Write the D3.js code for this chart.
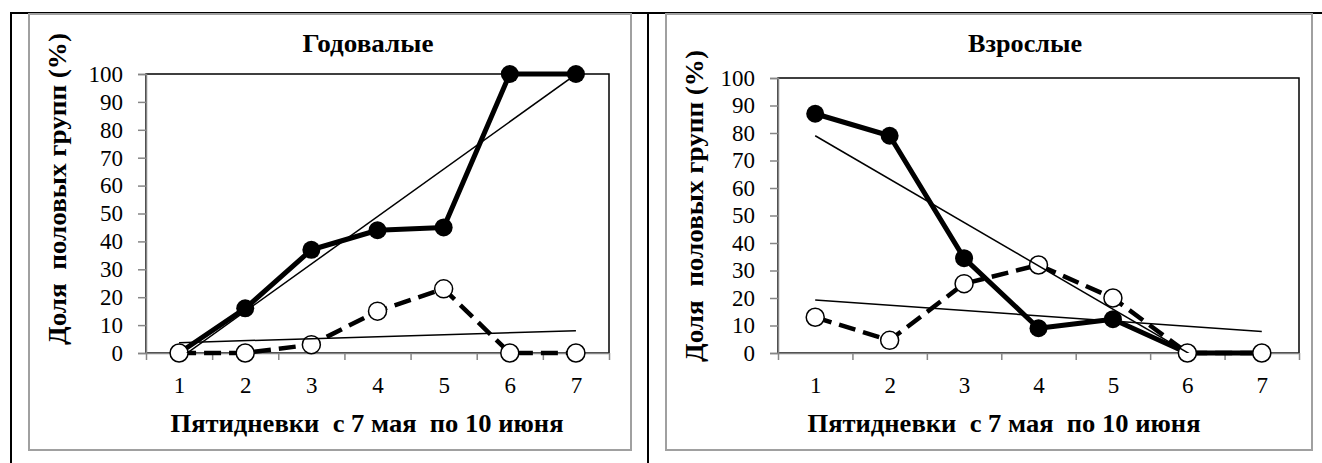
<!DOCTYPE html>
<html>
<head>
<meta charset="utf-8">
<script src="https://cdn.jsdelivr.net/npm/d3@7"></script>
<style>
    body { margin: 0; background: #fff; }
    svg { display: block; }
</style>
</head>
<body>
<div id="chart"></div>
<script>
// data
const periods = [1, 2, 3, 4, 5, 6, 7]
const yTicks = [0, 10, 20, 30, 40, 50, 60, 70, 80, 90, 100]

const yearlingFilled = [0, 16, 37, 44, 45, 100, 100]
const yearlingOpen = [0, 0, 3, 15, 23, 0, 0]
const yearlingFilledTrend = [-2.1, 99.9]   // value at period 1 and period 7
const yearlingOpenTrend = [3.7, 8.0]

const adultFilled = [87, 79, 34.5, 9, 12.3, 0, 0]
const adultOpen = [13, 4.6, 25.2, 32, 20, 0, 0]
const adultFilledTrend = [79, -15.6]
const adultOpenTrend = [19.3, 7.8]

const xTitle = "Пятидневки  с 7 мая  по 10 июня"
const yTitle = "Доля  половых групп (%)"

const width = 1322
const height = 463
const serif = "Liberation Serif"

const svg = d3.select("#chart")
    .append("svg")
    .attr("width", width)
    .attr("height", height)
    .attr("viewBox", [0, 0, width, height])
    .attr("font-family", serif)

// table lines around the two panels
svg.append("g")
    .attr("stroke", "#000")
    .attr("stroke-width", 2)
    .call(g => g.append("line").attr("x1", 10).attr("x2", width).attr("y1", 13).attr("y2", 13))
    .call(g => g.append("line").attr("x1", 11).attr("x2", 11).attr("y1", 12).attr("y2", height))
    .call(g => g.append("line").attr("x1", 648).attr("x2", 648).attr("y1", 12).attr("y2", height))

const panels = [
    {
        id: "p0", title: "Годовалые", titleX: 368, titleLen: 131,
        frame: [29, 14, 631, 450],
        plot: { left: 146, right: 609, top: 74, bottom: 353 },
        yTitleX: 57, yTitleY: 189, xTitleX: 367,
        filled: yearlingFilled, open: yearlingOpen,
        filledTrend: yearlingFilledTrend, openTrend: yearlingOpenTrend
    },
    {
        id: "p1", title: "Взрослые", titleX: 1025, titleLen: 114,
        frame: [666, 14, 1312, 450],
        plot: { left: 778, right: 1299, top: 78, bottom: 353 },
        yTitleX: 694, yTitleY: 206, xTitleX: 1004,
        filled: adultFilled, open: adultOpen,
        filledTrend: adultFilledTrend, openTrend: adultOpenTrend
    }
]

function drawPanel(p) {
    const g = svg.append("g")
    const { left, right, top, bottom } = p.plot

    // gray chart frame
    g.append("rect")
        .attr("x", p.frame[0]).attr("y", p.frame[1])
        .attr("width", p.frame[2] - p.frame[0]).attr("height", p.frame[3] - p.frame[1])
        .attr("fill", "none").attr("stroke", "#a0a0a0").attr("stroke-width", 2)

    const x = d3.scaleLinear([0.5, periods.length + 0.5], [left, right])
    const y = d3.scaleLinear([0, 100], [bottom, top])

    // plot area border (black top/right), axes drawn over it in gray
    g.append("rect")
        .attr("x", left).attr("y", top)
        .attr("width", right - left).attr("height", bottom - top)
        .attr("fill", "none").attr("stroke", "#000").attr("stroke-width", 1.5)

    g.append("g")
        .attr("transform", `translate(${left},0)`)
        .call(d3.axisLeft(y).tickValues(yTicks).tickSize(8).tickPadding(15))
        .attr("font-family", serif)
        .call(a => a.selectAll("line, path").attr("stroke", "#868686").attr("stroke-width", 1.5))
        .call(a => a.selectAll("text").attr("font-size", 23))

    const boundaries = d3.range(0.5, periods.length + 1, 1)
    g.append("g")
        .attr("transform", `translate(0,${bottom})`)
        .call(d3.axisBottom(x).tickValues(boundaries).tickSize(7).tickFormat(""))
        .call(a => a.select(".domain").attr("d", `M${left},0.5H${right}`))
        .call(a => a.selectAll("line, path").attr("stroke", "#868686").attr("stroke-width", 1.5))

    g.append("g")
        .attr("transform", `translate(0,${bottom})`)
        .call(d3.axisBottom(x).tickValues(periods).tickFormat(d3.format("d")).tickSize(0).tickPadding(24))
        .attr("font-family", serif)
        .call(a => a.select(".domain").remove())
        .call(a => a.selectAll("text").attr("font-size", 23))

    // titles
    g.append("text")
        .attr("x", p.titleX).attr("y", 52)
        .attr("text-anchor", "middle")
        .attr("font-weight", "bold").attr("font-size", 26)
        .attr("textLength", p.titleLen).attr("lengthAdjust", "spacingAndGlyphs")
        .text(p.title)

    g.append("text")
        .attr("x", p.xTitleX).attr("y", 432)
        .attr("text-anchor", "middle")
        .attr("font-weight", "bold").attr("font-size", 25)
        .attr("textLength", 393).attr("lengthAdjust", "spacingAndGlyphs")
        .attr("xml:space", "preserve").style("white-space", "pre")
        .text(xTitle)

    g.append("text")
        .attr("transform", `translate(${p.yTitleX},${p.yTitleY}) rotate(-90)`)
        .attr("text-anchor", "middle").attr("dy", "0.35em")
        .attr("font-weight", "bold").attr("font-size", 25)
        .attr("textLength", 312).attr("lengthAdjust", "spacingAndGlyphs")
        .attr("xml:space", "preserve").style("white-space", "pre")
        .text(yTitle)

    const line = d3.line()
        .x((d, i) => x(periods[i]))
        .y(d => y(d))

    // filled series
    g.append("path")
        .attr("d", line(p.filled))
        .attr("fill", "none").attr("stroke", "#000").attr("stroke-width", 5)
        .attr("stroke-linejoin", "round")
    g.append("g")
        .selectAll("circle")
        .data(p.filled)
        .join("circle")
        .attr("cx", (d, i) => x(periods[i]))
        .attr("cy", d => y(d))
        .attr("r", 9)
        .attr("fill", "#000")

    // open series
    g.append("path")
        .attr("d", line(p.open))
        .attr("fill", "none").attr("stroke", "#000").attr("stroke-width", 4.5)
        .attr("stroke-dasharray", "17,8")
    g.append("g")
        .selectAll("circle")
        .data(p.open)
        .join("circle")
        .attr("cx", (d, i) => x(periods[i]))
        .attr("cy", d => y(d))
        .attr("r", 9)
        .attr("fill", "#fff").attr("stroke", "#000").attr("stroke-width", 1.5)

    // linear trend lines, clipped to the plot area
    g.append("clipPath").attr("id", "clip-" + p.id)
        .append("rect")
        .attr("x", left).attr("y", top)
        .attr("width", right - left).attr("height", bottom - top)

    const first = periods[0]
    const last = periods[periods.length - 1]
    g.append("g")
        .attr("clip-path", `url(#clip-${p.id})`)
        .attr("stroke", "#000").attr("stroke-width", 1.5)
        .selectAll("line")
        .data([p.filledTrend, p.openTrend])
        .join("line")
        .attr("x1", x(first)).attr("x2", x(last))
        .attr("y1", d => y(d[0])).attr("y2", d => y(d[1]))
}

panels.forEach(drawPanel)
</script>
</body>
</html>
